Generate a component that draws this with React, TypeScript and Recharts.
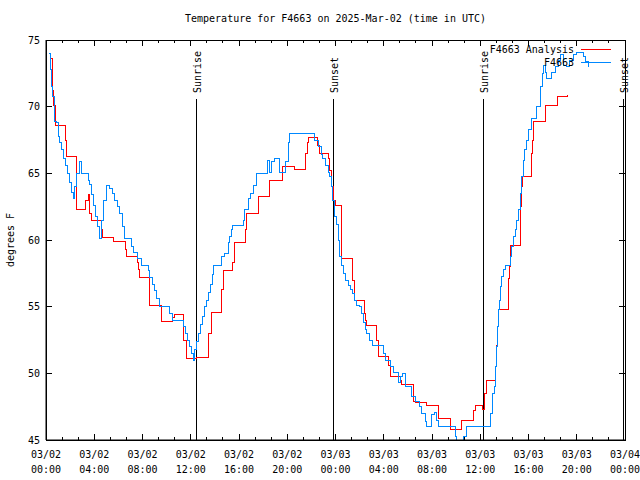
import React from "react";
import { LineChart, Line, XAxis, YAxis, ReferenceLine, ReferenceArea, Legend } from "recharts";

const FONT = "'DejaVu Sans Mono', monospace";

// hours after 03/02 00:00 UTC, temperature in F
const analysisSeries: [number, number][] = [
  [0.31, 73.6], [0.58, 71.2], [0.66, 70.1], [0.8, 68.6], [1.63, 67.5], [1.74, 66.3], [2.55, 62.3],
  [3.29, 63.0], [3.49, 63.4], [3.63, 62.0], [3.77, 61.5], [4.62, 60.8], [4.71, 60.2], [5.62, 59.9],
  [6.61, 59.3], [6.7, 58.8], [7.57, 58.3], [7.63, 57.8], [7.78, 57.2], [8.61, 55.1], [9.58, 53.9],
  [10.51, 54.2], [10.68, 54.4], [11.37, 52.5], [11.65, 51.1], [12.5, 51.2], [13.5, 53.0], [13.73, 54.6],
  [14.56, 56.3], [14.69, 57.7], [15.44, 58.3], [15.66, 59.8], [16.53, 60.8], [16.63, 62.0], [17.59, 63.3],
  [18.56, 64.5], [19.62, 65.5], [20.64, 65.3], [21.55, 66.5], [21.66, 67.3], [21.74, 67.7], [22.52, 67.1],
  [22.66, 66.5], [23.4, 66.1], [23.49, 65.2], [23.63, 64.0], [23.82, 63.0], [23.96, 62.6], [24.46, 58.6],
  [25.42, 57.0], [25.56, 55.5], [26.39, 54.5], [26.45, 54.0], [26.59, 53.6], [27.42, 52.5], [27.55, 51.3],
  [28.38, 50.6], [28.52, 49.8], [29.35, 49.5], [29.49, 49.2], [30.46, 47.9], [30.6, 47.8], [31.51, 47.6],
  [32.53, 46.6], [33.51, 45.8], [34.47, 46.5], [35.44, 47.2], [35.58, 47.6], [36.22, 47.3], [36.37, 48.5],
  [36.53, 49.5], [37.24, 50.5], [37.38, 52.1], [37.43, 53.5], [37.51, 54.8], [38.34, 57.1], [38.42, 58.0],
  [38.54, 59.6], [39.31, 61.0], [39.37, 62.5], [39.45, 64.0], [39.54, 64.8], [40.27, 66.5], [40.37, 67.5],
  [40.42, 68.9], [41.39, 70.1], [42.41, 70.8], [43.24, 70.9],
];

const stationSeries: [number, number][] = [
  [0.25, 74.0], [0.37, 72.8], [0.45, 71.5], [0.53, 70.8], [0.72, 68.9], [0.86, 68.8], [1.0, 67.8],
  [1.14, 67.3], [1.28, 66.8], [1.47, 66.1], [1.63, 65.6], [1.8, 65.0], [1.97, 64.3], [2.13, 63.6],
  [2.24, 63.1], [2.38, 64.0], [2.55, 65.0], [2.74, 65.9], [2.94, 65.0], [3.49, 64.5], [3.63, 64.2],
  [3.79, 63.4], [3.96, 62.6], [4.12, 61.8], [4.29, 61.0], [4.46, 60.1], [4.62, 61.5], [4.79, 63.0],
  [5.01, 64.1], [5.29, 63.9], [5.49, 63.5], [5.7, 63.0], [5.91, 62.5], [6.12, 62.0], [6.32, 61.0],
  [6.53, 60.1], [7.09, 59.5], [7.22, 59.1], [7.61, 58.6], [7.92, 58.1], [8.47, 57.7], [8.61, 57.2],
  [8.85, 56.7], [9.02, 56.2], [9.18, 55.6], [9.43, 55.0], [10.21, 54.5], [10.49, 54.0], [11.37, 53.5],
  [11.55, 53.0], [11.72, 52.5], [11.88, 52.0], [12.05, 51.5], [12.2, 51.0], [12.34, 51.8], [12.48, 52.4],
  [12.63, 53.0], [12.8, 53.7], [12.96, 54.3], [13.13, 55.0], [13.29, 55.5], [13.46, 56.1], [13.63, 56.7],
  [13.79, 57.4], [13.92, 58.1], [14.56, 58.8], [14.83, 59.0], [15.1, 59.8], [15.24, 60.3], [15.38, 60.8],
  [15.47, 61.1], [16.35, 61.5], [16.49, 62.3], [16.77, 63.1], [16.95, 63.5], [17.19, 64.1], [17.46, 65.0],
  [18.34, 66.0], [18.56, 65.1], [18.7, 65.9], [18.98, 66.1], [19.39, 65.1], [19.89, 65.9], [20.08, 67.3],
  [20.17, 68.0], [22.3, 67.5], [22.57, 67.0], [22.85, 66.4], [22.96, 66.1], [23.21, 65.6], [23.38, 65.1],
  [23.49, 64.8], [23.63, 64.0], [23.77, 63.0], [23.88, 61.8], [24.1, 61.2], [24.23, 60.0], [24.37, 58.8],
  [24.5, 58.1], [24.69, 57.5], [24.86, 57.0], [25.08, 56.6], [25.26, 56.3], [25.43, 56.0], [25.58, 55.5],
  [25.76, 55.1], [26.03, 55.0], [26.18, 54.5], [26.31, 53.8], [26.45, 53.3], [26.59, 53.0], [26.86, 52.5],
  [27.05, 52.1], [27.97, 51.5], [28.11, 51.0], [28.53, 50.5], [28.79, 50.1], [29.21, 49.3], [29.41, 49.8],
  [29.57, 50.0], [29.77, 49.0], [30.32, 48.3], [30.6, 47.9], [30.95, 47.5], [31.15, 47.0], [31.43, 46.4],
  [31.57, 46.0], [31.98, 46.9], [32.17, 47.1], [32.4, 46.5], [32.53, 46.0], [33.91, 45.3], [34.05, 44.6],
  [34.16, 44.0], [34.47, 44.5], [34.62, 45.3], [34.83, 46.0], [36.76, 46.0], [36.88, 47.0], [37.04, 48.5],
  [37.15, 49.0], [37.24, 50.5], [37.32, 52.0], [37.43, 53.5], [37.51, 54.8], [37.59, 55.5], [37.71, 56.5],
  [37.79, 57.3], [37.93, 57.8], [38.07, 58.1], [38.54, 58.8], [38.62, 59.5], [38.76, 60.3], [38.9, 60.8],
  [39.04, 61.5], [39.17, 62.3], [39.31, 63.5], [39.45, 64.8], [39.59, 66.0], [39.69, 66.8], [39.81, 67.5],
  [40.0, 68.3], [40.29, 69.1], [40.7, 70.0], [41.03, 71.5], [41.2, 72.5], [41.25, 73.1], [41.39, 72.6],
  [41.53, 72.1], [41.94, 72.6], [42.22, 73.0], [42.49, 73.5], [42.63, 73.9], [42.91, 73.1], [43.19, 73.0],
  [43.38, 73.5], [43.74, 73.9], [43.96, 74.1], [44.57, 73.8], [44.71, 73.4], [44.98, 73.0],
];

const sunEvents = [
  { label: "Sunrise", hour: 12.45 },
  { label: "Sunset", hour: 23.8 },
  { label: "Sunrise", hour: 36.25 },
  { label: "Sunset", hour: 47.85 },
];
const sunLineTop = 70.6;

const majorHours = [0, 4, 8, 12, 16, 20, 24, 28, 32, 36, 40, 44, 48];
const dateLabels = ["03/02", "03/02", "03/02", "03/02", "03/02", "03/02", "03/03", "03/03", "03/03", "03/03", "03/03", "03/03", "03/04"];
const timeLabels = ["00:00", "04:00", "08:00", "12:00", "16:00", "20:00", "00:00", "04:00", "08:00", "12:00", "16:00", "20:00", "00:00"];
const tempTicks = [45, 50, 55, 60, 65, 70, 75];

const title = "Temperature for F4663 on 2025-Mar-02 (time in UTC)";
const seriesNames = ["F4663 Analysis", "F4663"];
const colors = ["#ff0000", "#0088ff"];

// plot frame in page pixels
const PLOT_TOP = 40;
const PLOT_BOTTOM = 440;
const PLOT_LEFT = 46;
const PLOT_RIGHT = 625;

const analysisData = analysisSeries.map(([t, v]) => ({ t, v }));
const stationData = stationSeries.map(([t, v]) => ({ t, v }));
const allTicks = majorHours.flatMap((h, i) => (i < majorHours.length - 1 ? [h, h + 4 / 3, h + 8 / 3] : [h]));

function XTick(props: any) {
  const { x, payload } = props;
  const idx = majorHours.findIndex((h) => Math.abs(h - payload.value) < 1e-6);
  const len = idx >= 0 ? 6 : 3;
  return (
    <g shapeRendering="crispEdges">
      <line x1={x} x2={x} y1={PLOT_BOTTOM} y2={PLOT_BOTTOM - len} stroke="#000" />
      <line x1={x} x2={x} y1={PLOT_TOP} y2={PLOT_TOP + len} stroke="#000" />
      {idx >= 0 && (
        <text textAnchor="middle" fontSize={10} fontFamily={FONT} fill="#000">
          <tspan x={x} y={PLOT_BOTTOM + 18}>{dateLabels[idx]}</tspan>
          <tspan x={x} y={PLOT_BOTTOM + 33}>{timeLabels[idx]}</tspan>
        </text>
      )}
    </g>
  );
}

function YTick(props: any) {
  const { y, payload } = props;
  return (
    <g shapeRendering="crispEdges">
      <line x1={PLOT_LEFT} x2={PLOT_LEFT + 6} y1={y} y2={y} stroke="#000" />
      <line x1={PLOT_RIGHT} x2={PLOT_RIGHT - 6} y1={y} y2={y} stroke="#000" />
      <text x={PLOT_LEFT - 6} y={y + 3.5} textAnchor="end" fontSize={10} fontFamily={FONT} fill="#000">
        {payload.value}
      </text>
    </g>
  );
}

const sunLabel = (text: string) => (p: any) => {
  const x = p.viewBox.x + 4.5;
  const y = 93;
  return (
    <text x={x} y={y} transform={`rotate(-90 ${x} ${y})`} fontSize={10} fontFamily={FONT} fill="#000">
      {text}
    </text>
  );
};

function LegendBox() {
  return (
    <svg width={160} height={32} style={{ display: "block" }}>
      <text x={104} y={13} textAnchor="end" fontSize={10} fontFamily={FONT} fill="#000">{seriesNames[0]}</text>
      <line x1={111} x2={141} y1={9.5} y2={9.5} stroke={colors[0]} />
      <text x={104} y={26} textAnchor="end" fontSize={10} fontFamily={FONT} fill="#000">{seriesNames[1]}</text>
      <line x1={111} x2={141} y1={22.5} y2={22.5} stroke={colors[1]} />
    </svg>
  );
}

export default function App() {
  return (
    <div style={{ position: "absolute", left: 0, top: 0, width: 640, height: 480, background: "#fff" }}>
      <div
        style={{
          position: "absolute", left: PLOT_LEFT, top: 12, width: PLOT_RIGHT - PLOT_LEFT,
          textAlign: "center", fontFamily: FONT, fontSize: 10, lineHeight: "14px", zIndex: 2,
        }}
      >
        {title}
      </div>
      <LineChart width={640} height={480} margin={{ top: PLOT_TOP, right: 640 - PLOT_RIGHT, bottom: 0, left: 0 }}>
        <XAxis
          dataKey="t" type="number" domain={[0, 48]} ticks={allTicks} interval={0}
          tick={<XTick />} tickLine={false} tickSize={0} tickMargin={0}
          axisLine={{ stroke: "#000" }} height={40} allowDataOverflow
        />
        <YAxis
          type="number" domain={[45, 75]} ticks={tempTicks} interval={0}
          tick={<YTick />} tickLine={false} tickSize={0} tickMargin={0}
          axisLine={{ stroke: "#000" }} width={PLOT_LEFT} allowDataOverflow
          label={() => (
            <text x={13.5} y={240} transform="rotate(-90 13.5 240)" textAnchor="middle" fontSize={10} fontFamily={FONT} fill="#000">
              degrees F
            </text>
          )}
        />
        <ReferenceArea x1={0} x2={48} y1={45} y2={75} fill="none" stroke="#000" shapeRendering="crispEdges" />
        {sunEvents.map((s, i) => (
          <ReferenceLine
            key={i}
            segment={[{ x: s.hour, y: 45 }, { x: s.hour, y: sunLineTop }]}
            stroke="#000"
            shapeRendering="crispEdges"
            label={sunLabel(s.label)}
          />
        ))}
        <Line
          data={analysisData} dataKey="v" name={seriesNames[0]} type="stepAfter"
          stroke={colors[0]} strokeWidth={1} dot={false} activeDot={false}
          isAnimationActive={false} shapeRendering="crispEdges"
        />
        <Line
          data={stationData} dataKey="v" name={seriesNames[1]} type="stepAfter"
          stroke={colors[1]} strokeWidth={1} dot={false} activeDot={false}
          isAnimationActive={false} shapeRendering="crispEdges"
        />
        <Legend
          layout="horizontal" verticalAlign="middle" align="center"
          wrapperStyle={{ position: "absolute", top: 40, left: 470, width: 160, height: 32 }}
          content={() => <LegendBox />}
        />
      </LineChart>
    </div>
  );
}
